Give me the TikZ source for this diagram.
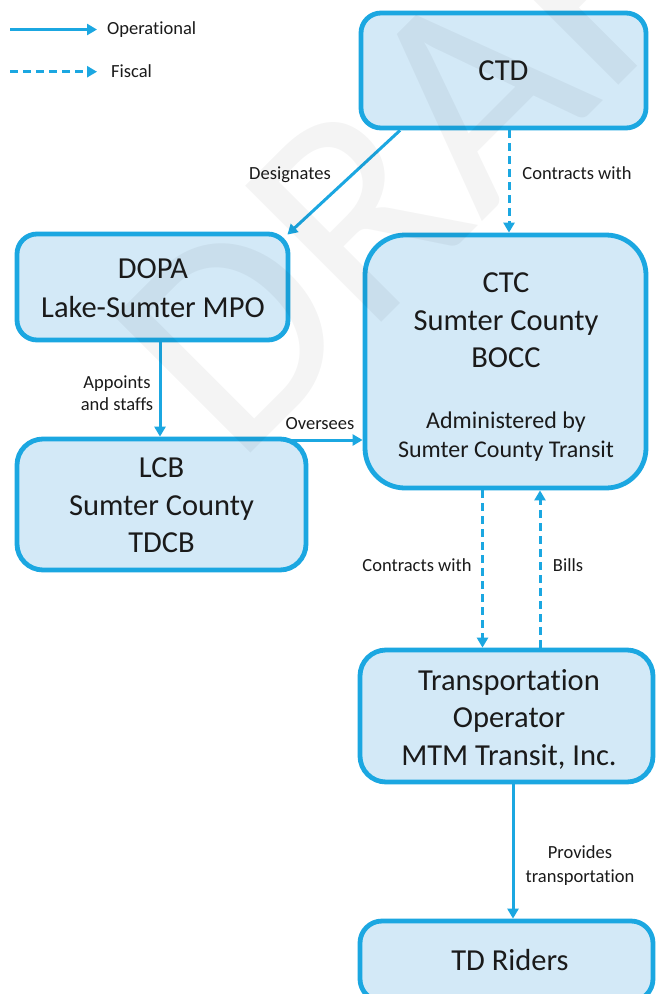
\documentclass[tikz,border=0pt]{standalone}
\usepackage{fontspec}
\setmainfont{Carlito}[Ligatures={NoCommon}]
\usetikzlibrary{arrows.meta}
\definecolor{bord}{HTML}{1BA7E1}
\definecolor{boxfill}{HTML}{D3E9F7}
\definecolor{ink}{HTML}{1A1A1A}
\begin{document}
\begin{tikzpicture}[x=1pt,y=-1pt,
  box/.style={draw=bord, fill=boxfill, line width=4.8pt, inner sep=0pt},
  big/.style={font=\fontsize{30.5}{37}\selectfont, text=ink, anchor=base, inner sep=0pt},
  mid/.style={font=\fontsize{24}{29}\selectfont, text=ink, anchor=base, inner sep=0pt},
  lbl/.style={font=\fontsize{18.5}{22}\selectfont, text=ink, anchor=base, inner sep=0pt},
  op/.style={draw=bord, line width=3pt, -{Triangle[length=10pt,width=11pt]}},
  fisc/.style={op, dash pattern=on 8pt off 5pt}]
\useasboundingbox (0,0) rectangle (656,994);
\clip (0,0) rectangle (656,994);
\fill[white] (0,0) rectangle (656,994);

% boxes
\node[box, rounded corners=20pt, minimum width=285pt, minimum height=115pt] (ctd) at (503.5,70.5) {};
\node[box, rounded corners=20pt, minimum width=271pt, minimum height=106pt] (dopa) at (152.5,287) {};
\node[box, rounded corners=40pt, minimum width=281pt, minimum height=253pt] (ctc) at (505.5,361.5) {};
\node[box, rounded corners=26pt, minimum width=289pt, minimum height=131pt] (lcb) at (161.5,504.5) {};
\node[box, rounded corners=26pt, minimum width=293pt, minimum height=132pt] (top) at (506.5,716) {};
\node[box, rounded corners=22pt, minimum width=293pt, minimum height=80pt] (tdr) at (506.5,961) {};

% legend
\coordinate (l1a) at (10,29.5);
\coordinate (l1b) at (97,29.5);
\coordinate (l2a) at (10,71.7);
\coordinate (l2b) at (97,71.7);
\draw[op] (l1a) -- (l1b);
\draw[fisc] (l2a) -- (l2b);
\node[lbl, anchor=base west] (lg1) at (107,34.5) {Operational};
\node[lbl, anchor=base west] (lg2) at (111,77) {Fiscal};

% connectors
\coordinate (xd1) at (400,0);
\coordinate (xa) at (509,0);
\coordinate (xb) at (160,0);
\coordinate (ov) at (290,440);
\coordinate (xc) at (482.5,0);
\coordinate (xd) at (540,0);
\coordinate (xe) at (513,0);
\draw[op] (ctd.south -| xd1) -- ([shift={(-3pt,-3pt)}]dopa.north east);
\draw[fisc] (ctd.south -| xa) -- (ctc.north -| xa);
\draw[op] (dopa.south -| xb) -- (lcb.north -| xb);
\draw[op] (ov) -- (ov -| ctc.west);
\draw[fisc] (ctc.south -| xc) -- (top.north -| xc);
\draw[fisc] (top.north -| xd) -- (ctc.south -| xd);
\draw[op] (top.south -| xe) -- (tdr.north -| xe);

% watermark
\node[rotate=45, anchor=base west, font=\fontsize{300}{300}\selectfont, text=black, opacity=0.045, inner sep=0pt] (wm) at (236,468) {DRAFT};

% box texts
\node[big] (ctdt) at (503.5,80) {CTD};
\node[big] (dopat1) at (153,278) {DOPA};
\node[big] (dopat2) at (153,317) {Lake-Sumter MPO};
\node[big] (ctct1) at (506,292) {CTC};
\node[big] (ctct2) at (506,330) {Sumter County};
\node[big] (ctct3) at (506,367) {BOCC};
\node[mid] (ctct4) at (506,428) {Administered by};
\node[mid] (ctct5) at (506,457) {Sumter County Transit};
\node[big] (lcbt1) at (161.5,477) {LCB};
\node[big] (lcbt2) at (161.5,515) {Sumter County};
\node[big] (lcbt3) at (161.5,552) {TDCB};
\node[big] (topt1) at (509,690) {Transportation};
\node[big] (topt2) at (509,727) {Operator};
\node[big] (topt3) at (509,765) {MTM Transit, Inc.};
\node[big] (tdrt) at (510,970) {TD Riders};

% connector labels
\node[lbl] (la) at (290,179) {Designates};
\node[lbl] (lb) at (577,179) {Contracts with};
\node[lbl] (lc1) at (117,388) {Appoints};
\node[lbl] (lc2) at (117,410) {and staffs};
\node[lbl] (ld) at (320,429) {Oversees};
\node[lbl] (le) at (417,571) {Contracts with};
\node[lbl] (lf) at (568,571) {Bills};
\node[lbl] (lg1b) at (580,858) {Provides};
\node[lbl] (lg2b) at (580,882) {transportation};
\end{tikzpicture}
\end{document}
